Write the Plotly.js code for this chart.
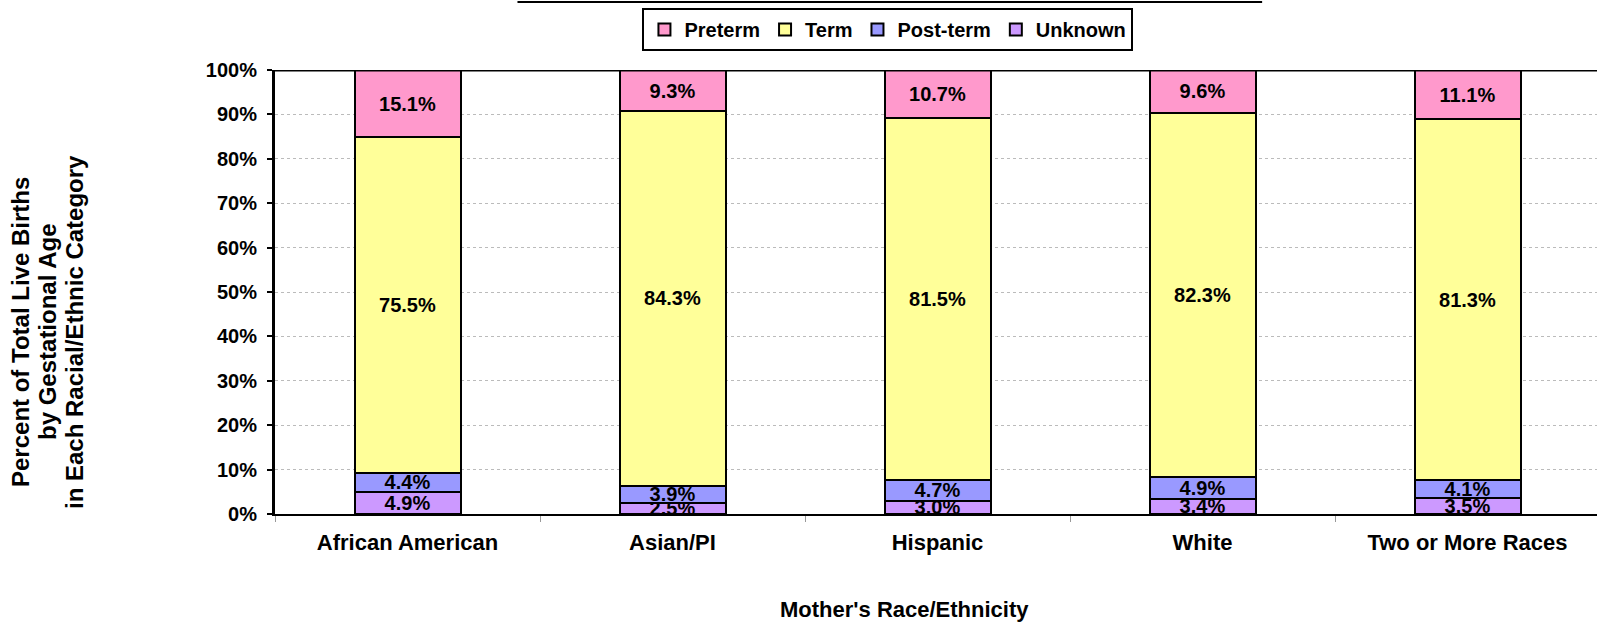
<!DOCTYPE html>
<html><head><meta charset="utf-8">
<script src="https://cdn.plot.ly/plotly-3.0.1.min.js"></script>
<style>html,body{margin:0;padding:0;overflow:hidden;background:#fff}#chart{width:1600px;height:623px}</style>
</head><body><div id="chart"></div>
<script>
const categories = ["African American", "Asian/PI", "Hispanic", "White", "Two or More Races"];
const preterm  = [15.1, 9.3, 10.7, 9.6, 11.1];
const term     = [75.5, 84.3, 81.5, 82.3, 81.3];
const postterm = [4.4, 3.9, 4.7, 4.9, 4.1];
const unknown  = [4.9, 2.5, 3.0, 3.4, 3.5];
const seriesNames = ["Unknown", "Post-term", "Term", "Preterm"];
const seriesColors = ["#CC99FF", "#9999FF", "#FFFF99", "#FF99CC"];
const seriesValues = [unknown, postterm, term, preterm];
const yTitleLines = ["Percent of Total Live Births", "by Gestational Age", "in Each Racial/Ethnic Category"];

const FONT = "Liberation Sans, Arial, sans-serif";
const traces = seriesValues.map((vals, i) => ({
  type: "bar",
  name: seriesNames[i],
  x: categories,
  y: vals,
  text: vals.map(v => "<b>" + v.toFixed(1) + "%</b>"),
  textposition: "inside",
  insidetextanchor: "middle",
  textangle: 0,
  constraintext: "none",
  textfont: {family: FONT, size: 20, color: "#000"},
  marker: {color: seriesColors[i], line: {color: "#000", width: 2}},
  hoverinfo: "skip"
}));

const annotations = yTitleLines.map((t, i) => ({
  text: "<b>" + t + "</b>",
  xref: "paper", yref: "paper",
  x: (20 + 27 * i - 275) / 1325, y: (514 - 332) / 444,
  xanchor: "center", yanchor: "middle", textangle: -90, showarrow: false,
  font: {family: FONT, size: 24, color: "#000"}
}));
annotations.push({text: "<b>Mother's Race/Ethnicity</b>",
  xref: "paper", yref: "paper", x: (904 - 275) / 1325, y: (514 - 609) / 444,
  xanchor: "center", yanchor: "middle", showarrow: false,
  font: {family: FONT, size: 22, color: "#000"}});

const layout = {
  width: 1600, height: 623,
  margin: {l: 275, r: 0, t: 70, b: 109},
  barmode: "stack",
  barnorm: "percent",
  bargap: 0.6,
  paper_bgcolor: "#fff", plot_bgcolor: "#fff",
  font: {family: FONT, color: "#000"},
  showlegend: true,
  legend: {
    orientation: "h", traceorder: "reversed",
    x: 0.4626, xanchor: "center", y: (514 - 8) / 444, yanchor: "top",
    bordercolor: "#000", borderwidth: 2,
    font: {family: FONT, size: 20, color: "#000", weight: "bold"},
    itemwidth: 30, tracegroupgap: 0
  },
  xaxis: {
    type: "category",
    showline: true, linecolor: "#000", linewidth: 2,
    ticks: "outside", tickson: "boundaries", ticklen: 6, tickcolor: "#999", tickwidth: 1,
    showgrid: false,
    tickfont: {family: FONT, size: 22, color: "#000", weight: "bold"},
    ticklabelstandoff: 8,
    fixedrange: true
  },
  yaxis: {
    range: [0, 100], dtick: 10, ticksuffix: "%",
    showline: true, linecolor: "#000", linewidth: 3,
    ticks: "outside", ticklen: 5, tickwidth: 2, tickcolor: "#000",
    showgrid: true, gridcolor: "#bbb", gridwidth: 1, griddash: "dot",
    zeroline: false,
    tickfont: {family: FONT, size: 20, color: "#000", weight: "bold"},
    ticklabelstandoff: 6,
    fixedrange: true
  },
  shapes: [
    {type: "line", xref: "paper", yref: "y", x0: 0, x1: 1, y0: 100, y1: 100, line: {color: "#000", width: 3}},
    {type: "line", xref: "paper", yref: "paper", x0: 0.183, x1: 0.745, y0: 1.153, y1: 1.153, line: {color: "#000", width: 2}}
  ],
  annotations: annotations
};
Plotly.newPlot("chart", traces, layout, {displayModeBar: false, staticPlot: true});
</script></body></html>
